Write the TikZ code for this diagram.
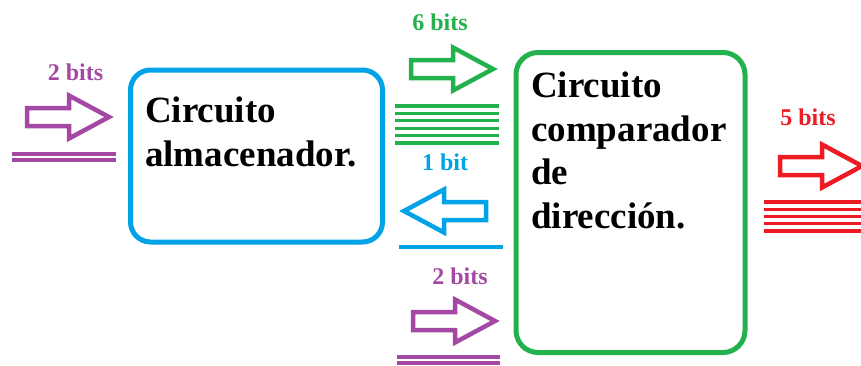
\documentclass[tikz,border=0pt]{standalone}
\usepackage{fontspec}
\setmainfont{Liberation Serif}
\usepackage{xcolor}
\definecolor{paintblue}{HTML}{00A2E8}
\definecolor{paintgreen}{HTML}{22B14C}
\definecolor{paintpurple}{HTML}{A349A4}
\definecolor{paintred}{HTML}{ED1C24}

\begin{document}
\begin{tikzpicture}[
  x=1pt, y=-1pt,
  box/.style={rectangle, draw, line width=5pt, inner sep=0pt, outer sep=0pt},
  boxtext/.style={anchor=base west, align=left, inner sep=0pt, font=\fontsize{37}{43.5}\selectfont\bfseries},
  bits/.style={anchor=base, inner sep=0pt, font=\fontsize{24}{28}\selectfont\bfseries},
  wire/.style={line width=3.2pt},
  bitarrow/.pic={\draw[line width=4.5pt, miter limit=10, pic actions]
    (2,-9) -- (44,-9) -- (44,-21.5) -- (84,0) -- (44,21.5) -- (44,9) -- (2,9) -- cycle;}
]
\useasboundingbox (0,0) rectangle (861,365);

% bloques
\node[box, paintblue, rounded corners=20pt, minimum width=252pt, minimum height=172pt] (alm) at (256.5,156) {};
\node[box, paintgreen, rounded corners=22pt, minimum width=229pt, minimum height=300pt] (comp) at (630.5,202.5) {};
\node[boxtext] (almtxt) at (145,166) {Circuito\\almacenador.};
\node[boxtext] (comptxt) at (531,228) {Circuito\\comparador\\de\\dirección.};

% entrada de 2 bits
\node[bits, paintpurple] (lblin) at (75.5,80) {2 bits};
\pic[paintpurple] at (25,117) {bitarrow};
\foreach \y in {154,160}
  \draw[wire, paintpurple] (12,\y) -- (116,\y);

% bus de 6 bits
\node[bits, paintgreen] (lblbus) at (440,30) {6 bits};
\pic[paintgreen] at (409,69) {bitarrow};
\foreach \i in {0,...,5}
  \draw[wire, paintgreen] (395,{106+7.4*\i}) -- (499,{106+7.4*\i});

% retorno de 1 bit
\node[bits, paintblue] (lblack) at (445,170) {1 bit};
\pic[paintblue, rotate=180] at (488,211) {bitarrow};
\draw[wire, paintblue] (399,247) -- (503,247);

% segunda entrada de 2 bits
\node[bits, paintpurple] (lblin2) at (460,284) {2 bits};
\pic[paintpurple] at (411,321) {bitarrow};
\foreach \y in {357,363}
  \draw[wire, paintpurple] (397,\y) -- (500,\y);

% salida de 5 bits
\node[bits, paintred] (lblout) at (808,125) {5 bits};
\pic[paintred] at (778,166) {bitarrow};
\foreach \i in {0,...,4}
  \draw[wire, paintred] (764,{202+7.25*\i}) -- (870,{202+7.25*\i});
\end{tikzpicture}
\end{document}
